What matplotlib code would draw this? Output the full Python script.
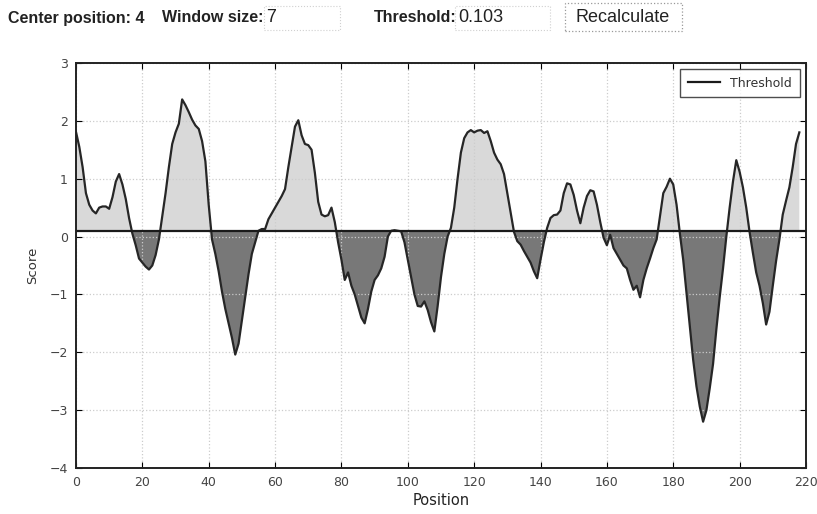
import numpy as np
import matplotlib
matplotlib.use("Agg")
import matplotlib.pyplot as plt
from matplotlib.patches import Rectangle

plt.rcParams['font.family'] = ['DejaVu Sans']

# sliding window score, one value per position
position = np.arange(0, 219)
score = [
    1.81, 1.55, 1.20, 0.75, 0.55, 0.45, 0.40, 0.50, 0.52, 0.52,
    0.48, 0.68, 0.95, 1.08, 0.90, 0.65, 0.32, 0.05, -0.15, -0.38,
    -0.45, -0.52, -0.57, -0.50, -0.32, -0.05, 0.35, 0.75, 1.20, 1.60,
    1.80, 1.95, 2.37, 2.27, 2.15, 2.02, 1.92, 1.86, 1.65, 1.30,
    0.55, -0.05, -0.30, -0.60, -0.95, -1.25, -1.50, -1.75, -2.04, -1.85,
    -1.45, -1.05, -0.65, -0.30, -0.10, 0.10, 0.13, 0.13, 0.30, 0.40,
    0.50, 0.60, 0.70, 0.82, 1.20, 1.55, 1.90, 2.01, 1.75, 1.60,
    1.58, 1.50, 1.10, 0.60, 0.38, 0.35, 0.37, 0.50, 0.25, -0.10,
    -0.40, -0.75, -0.62, -0.85, -1.00, -1.20, -1.40, -1.50, -1.25, -0.95,
    -0.75, -0.67, -0.55, -0.35, 0.00, 0.10, 0.11, 0.10, 0.09, -0.10,
    -0.40, -0.70, -1.00, -1.20, -1.21, -1.12, -1.27, -1.48, -1.64, -1.20,
    -0.70, -0.30, 0.00, 0.15, 0.50, 1.00, 1.45, 1.70, 1.80, 1.84,
    1.80, 1.83, 1.84, 1.79, 1.82, 1.65, 1.45, 1.33, 1.25, 1.08,
    0.75, 0.42, 0.08, -0.08, -0.14, -0.25, -0.35, -0.45, -0.60, -0.72,
    -0.40, -0.10, 0.15, 0.32, 0.37, 0.38, 0.45, 0.75, 0.92, 0.90,
    0.72, 0.45, 0.23, 0.50, 0.70, 0.80, 0.78, 0.55, 0.25, -0.02,
    -0.15, 0.03, -0.20, -0.30, -0.40, -0.50, -0.55, -0.75, -0.92, -0.85,
    -1.05, -0.75, -0.55, -0.38, -0.20, -0.05, 0.35, 0.75, 0.86, 1.00,
    0.90, 0.55, 0.05, -0.40, -0.98, -1.56, -2.13, -2.59, -2.94, -3.20,
    -3.00, -2.62, -2.20, -1.60, -1.05, -0.55, 0.00, 0.50, 0.95, 1.32,
    1.12, 0.85, 0.50, 0.08, -0.28, -0.62, -0.85, -1.15, -1.52, -1.30,
    -0.85, -0.42, -0.05, 0.38, 0.62, 0.85, 1.20, 1.60, 1.80,
]
threshold = 0.103
center_position = 4
window_size = 7

score = np.array(score)

fig = plt.figure(figsize=(8.17, 5.14), dpi=100)
ax = fig.add_axes([0.093, 0.0895, 0.8935, 0.788])

ax.fill_between(position, score, threshold, where=score >= threshold,
                interpolate=True, color='#d9d9d9', linewidth=0)
ax.fill_between(position, score, threshold, where=score <= threshold,
                interpolate=True, color='#787878', linewidth=0)
ax.plot(position, score, color='#262626', lw=1.6)
ax.axhline(threshold, color='#1a1a1a', lw=1.6, label='Threshold')

ax.set_xlim(0, 220)
ax.set_ylim(-4, 3)
ax.set_xticks(np.arange(0, 221, 20))
ax.set_yticks(np.arange(-4, 4, 1))
ax.grid(True, color='#cccccc', linestyle=':', lw=0.9)
ax.tick_params(direction='in', top=True, right=True, labelsize=9,
               labelcolor='#444444', length=4, pad=6)
for s in ax.spines.values():
    s.set_linewidth(1.4)
    s.set_color('#222222')

ax.set_xlabel('Position', fontsize=10.5, color='#222222', labelpad=3)
ax.set_ylabel('Score', fontsize=9.5, color='#333333', labelpad=7)

leg = ax.legend(loc='upper right', fancybox=False, edgecolor='#222222',
                fontsize=9, handlelength=2.6, borderpad=0.6)
leg.get_frame().set_linewidth(1.0)
for t in leg.get_texts():
    t.set_color('#333333')

# header with the form controls
y_hdr = 1 - 18 / 514
hdr = dict(fontsize=11.5, fontweight='bold', color='#222222',
           family='Liberation Sans', va='center')
val = dict(fontsize=13, color='#222222', family='Liberation Sans', va='center')
fig.text(8 / 817, y_hdr, 'Center position: %d' % center_position, **hdr)
fig.text(162 / 817, y_hdr, 'Window size:', **hdr)
fig.text(266 / 817, y_hdr, str(window_size), **val)
fig.text(374 / 817, y_hdr, 'Threshold:', **hdr)
fig.text(458 / 817, y_hdr, '%.3f' % threshold, **val)
fig.text(623 / 817, y_hdr, 'Recalculate', fontsize=13, ha='center',
         color='#222222', family='Liberation Sans', va='center')

for x0, w in [(264, 76), (455, 95)]:
    fig.add_artist(Rectangle((x0 / 817, 1 - 30 / 514), w / 817, 24 / 514,
                             transform=fig.transFigure, fill=False,
                             edgecolor='#d0d0d0', lw=0.8, linestyle=':'))
fig.add_artist(Rectangle((565 / 817, 1 - 31 / 514), 117 / 817, 28 / 514,
                         transform=fig.transFigure, fill=False,
                         edgecolor='#999999', lw=0.9, linestyle=':'))

fig.savefig('out.png', dpi=100)
